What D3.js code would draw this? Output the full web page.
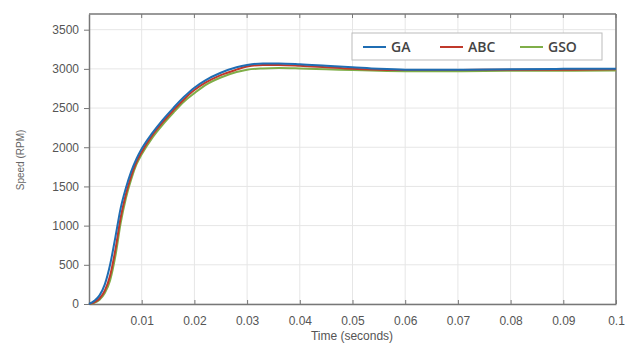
<!DOCTYPE html>
<html><head><meta charset="utf-8">
<script src="https://cdn.jsdelivr.net/npm/d3@7"></script>
<style>body{margin:0;background:#fff;} svg{display:block;font-family:"Liberation Sans",Arial,sans-serif;}</style>
</head><body>
<script>
const time = [0,0.001,0.002,0.003,0.004,0.005,0.006,0.007,0.008,0.009,0.01,0.012,0.014,0.016,0.018,0.02,0.022,0.025,0.028,0.03,0.033,0.036,0.04,0.045,0.05,0.055,0.06,0.07,0.08,0.09,0.1];
const gaSpeed  = [0,40,110,250,500,850,1220,1480,1690,1850,1980,2180,2350,2500,2640,2760,2850,2950,3020,3050,3070,3070,3060,3040,3020,3000,2990,2990,2995,3000,3000];
const abcSpeed = [0,20,70,170,360,690,1100,1400,1630,1810,1940,2150,2320,2470,2610,2730,2820,2920,2990,3030,3050,3050,3040,3020,3000,2990,2985,2985,2990,2990,2995];
const gsoSpeed = [0,15,55,140,300,610,1030,1350,1590,1780,1910,2120,2290,2440,2580,2690,2790,2890,2960,2990,3005,3010,3005,2995,2985,2975,2970,2970,2975,2975,2980];
const seriesNames = ["GA","ABC","GSO"];
const seriesColors = ["#1f6db3","#c0392b","#7fae48"];
const xTicks = [0.01,0.02,0.03,0.04,0.05,0.06,0.07,0.08,0.09,0.1];
const yTicks = [0,500,1000,1500,2000,2500,3000,3500];

const W=628,H=343, m={l:89,t:14,r:12,b:39};
const svg=d3.select("body").append("svg").attr("width",W).attr("height",H);
const x=d3.scaleLinear().domain([0,0.1]).range([m.l,W-m.r]);
const y=d3.scaleLinear().domain([0,3700]).range([H-m.b,m.t]);

// grid
svg.append("g").selectAll("line").data(xTicks).join("line")
 .attr("x1",d=>x(d)).attr("x2",d=>x(d)).attr("y1",y(0)).attr("y2",y(3700))
 .attr("stroke","#e6e6e6").attr("stroke-width",1);
svg.append("g").selectAll("line").data(yTicks).join("line")
 .attr("x1",x(0)).attr("x2",x(0.1)).attr("y1",d=>y(d)).attr("y2",d=>y(d))
 .attr("stroke","#e6e6e6").attr("stroke-width",1);

// axes
const fmtX=d=>d===0.1?"0.1":d3.format(".2f")(d);
const gx=svg.append("g").attr("transform",`translate(0,${y(0)})`)
 .call(d3.axisBottom(x).tickValues(xTicks).tickFormat(fmtX).tickSizeInner(-4).tickSizeOuter(0).tickPadding(12));
const gy=svg.append("g").attr("transform",`translate(${x(0)},0)`)
 .call(d3.axisLeft(y).tickValues(yTicks).tickFormat(d3.format("d")).tickSizeInner(5).tickSizeOuter(0).tickPadding(5));
[gx,gy].forEach(g=>{
  g.select(".domain").attr("stroke","#777").attr("stroke-width",1.5);
  g.selectAll(".tick line").attr("stroke","#777");
  g.selectAll(".tick text").attr("fill","#555").style("font-size","12px");
});
// top / right border
svg.append("line").attr("x1",x(0)).attr("x2",x(0.1)).attr("y1",y(3700)).attr("y2",y(3700)).attr("stroke","#777").attr("stroke-width",1.5);
svg.append("line").attr("x1",x(0.1)).attr("x2",x(0.1)).attr("y1",y(3700)).attr("y2",y(0)).attr("stroke","#777").attr("stroke-width",1.5);
svg.append("g").selectAll("line").data(xTicks).join("line")
 .attr("x1",d=>x(d)).attr("x2",d=>x(d)).attr("y1",y(3700)).attr("y2",y(3700)+4).attr("stroke","#777");

// lines
const data=[gaSpeed,abcSpeed,gsoSpeed];
const line=d3.line().x((d,i)=>x(time[i])).y(d=>y(d)).curve(d3.curveMonotoneX);
[2,1,0].forEach(k=>{
  svg.append("path").datum(data[k]).attr("d",line).attr("fill","none")
   .attr("stroke",seriesColors[k]).attr("stroke-width",2);
});

// legend
const lg=svg.append("g");
lg.append("rect").attr("x",352).attr("y",33).attr("width",250).attr("height",27)
 .attr("fill","#fff").attr("stroke","#bbb");
const lx=[363,440,520];
seriesNames.forEach((n,i)=>{
  lg.append("line").attr("x1",lx[i]).attr("x2",lx[i]+23).attr("y1",47).attr("y2",47)
   .attr("stroke",seriesColors[i]).attr("stroke-width",2);
  lg.append("text").attr("x",lx[i]+28).attr("y",52).text(n)
   .attr("fill","#444").style("font-size","14px").style("font-weight","600")
   .style("font-family","'Open Sans',sans-serif");
});

// titles
svg.append("text").attr("transform","translate(24,160) rotate(-90)").attr("text-anchor","middle")
 .attr("fill","#666").style("font-size","10px").text("Speed (RPM)");
svg.append("text").attr("x",352).attr("y",340).attr("text-anchor","middle")
 .attr("fill","#555").style("font-size","12px").text("Time (seconds)");
</script>
</body></html>
